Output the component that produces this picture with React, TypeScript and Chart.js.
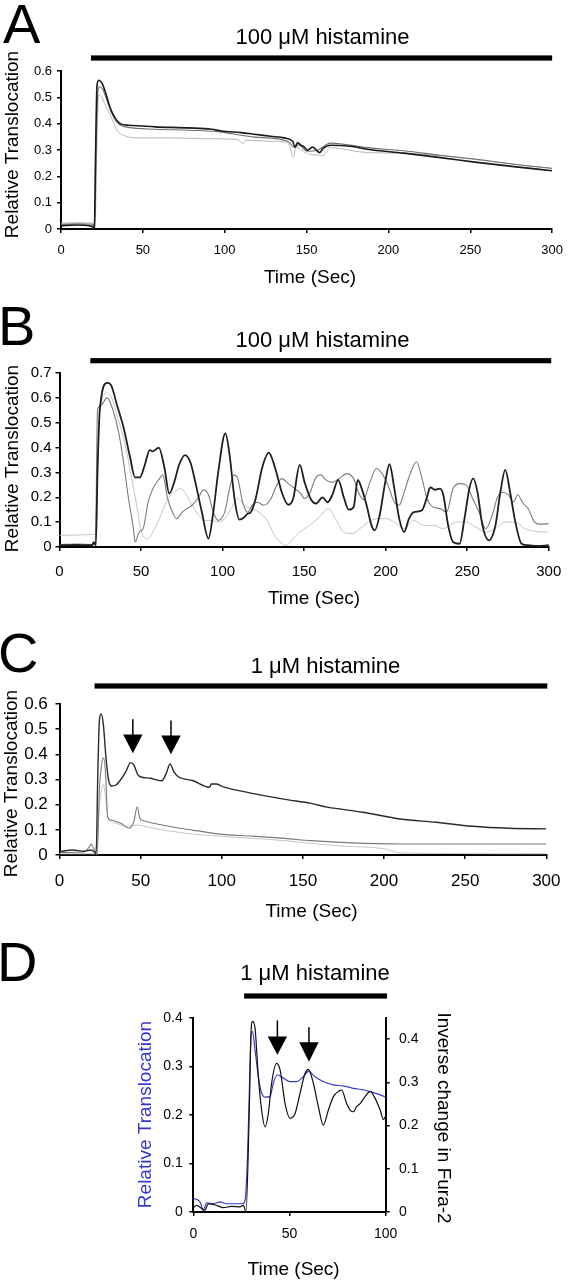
import React, { useEffect, useRef } from "react";
import { Chart, registerables } from "chart.js";

Chart.register(...registerables);

const FONT = "'Liberation Sans', Arial, Helvetica, sans-serif";
const PAGE_W = 573;

type Pt = [number, number];

// ---------------- Panel A: 100 uM histamine (3 cells) ----------------
const A_BLACK: Pt[] = [
  [0, 0.013], [9, 0.015], [19, 0.01], [20.4, 0.003], [21, 0.24], [22, 0.546], [23.1, 0.565],
  [25.1, 0.553], [27.1, 0.52], [30.2, 0.457], [33.2, 0.42], [36.2, 0.4], [41.3, 0.394],
  [49.4, 0.391], [57.5, 0.388], [77.7, 0.384], [91.9, 0.379], [98, 0.372], [110, 0.366],
  [118, 0.36], [128, 0.352], [136.4, 0.346], [141.5, 0.333], [143, 0.311], [144.5, 0.328],
  [146.6, 0.318], [148.6, 0.311], [150.6, 0.299], [153.6, 0.311], [158, 0.29], [160, 0.305],
  [164.6, 0.318], [178, 0.313], [187, 0.303], [209.4, 0.288], [231.8, 0.271], [254, 0.253],
  [276.6, 0.237], [300, 0.221],
];
const A_MID: Pt[] = [
  [0, 0.018], [10, 0.02], [19.5, 0.018], [20.6, 0.005], [21.5, 0.3], [22.5, 0.52], [23.5, 0.54],
  [25.5, 0.53], [28, 0.49], [31, 0.44], [33.5, 0.41], [36, 0.395], [41, 0.386], [57.5, 0.379],
  [77.7, 0.375], [98, 0.368], [110, 0.356], [118, 0.349], [138.5, 0.333], [142.5, 0.31],
  [145, 0.32], [150.6, 0.295], [157, 0.3], [164.6, 0.326], [187, 0.309], [209.4, 0.297],
  [231.8, 0.28], [254, 0.265], [276.6, 0.246], [300, 0.23],
];
const A_LIGHT: Pt[] = [
  [0, 0.022], [10, 0.024], [19.5, 0.022], [20.8, 0.005], [21.8, 0.3], [23, 0.51], [25, 0.5],
  [27, 0.47], [30.2, 0.432], [34.2, 0.375], [39.3, 0.353], [47.4, 0.346], [67.6, 0.346],
  [87.9, 0.343], [108, 0.34], [111, 0.324], [113, 0.337], [128.3, 0.333], [138.5, 0.328],
  [142, 0.273], [143.5, 0.311], [150.6, 0.286], [158, 0.28], [160, 0.278], [164.6, 0.309],
  [187, 0.29], [209.4, 0.288], [231.8, 0.278], [254, 0.263], [276.6, 0.246], [300, 0.23],
];

// ---------------- Panel B: 100 uM histamine (oscillating) ----------------
const B_BLACK: Pt[] = [
  [0, 0.007], [10, 0.008], [20, 0.007], [21, 0.02], [22.3, 0.007], [23.3, 0.3], [24.7, 0.55],
  [29.3, 0.66], [31.7, 0.65], [35.3, 0.57], [39.3, 0.48], [43.3, 0.36], [46.3, 0.28],
  [49.3, 0.28], [52.3, 0.33], [55.3, 0.39], [57.3, 0.385], [60.9, 0.4], [64.3, 0.32],
  [67.3, 0.215], [70.3, 0.26], [73.3, 0.33], [76.9, 0.37], [80.3, 0.34], [83.3, 0.26],
  [87.3, 0.14], [91.3, 0.034], [94.3, 0.14], [97.3, 0.3], [101.7, 0.457], [104.3, 0.37],
  [107.3, 0.195], [110.3, 0.11], [113.3, 0.12], [115.3, 0.134], [117.3, 0.14], [120.3, 0.195],
  [124.3, 0.32], [128.3, 0.38], [132.3, 0.316], [136.3, 0.22], [140.3, 0.17], [143.3, 0.195],
  [147.3, 0.33], [150.3, 0.26], [154.3, 0.19], [157.3, 0.175], [161.3, 0.2], [164.3, 0.18],
  [167.3, 0.21], [170.9, 0.27], [174.3, 0.2], [177.3, 0.15], [180.3, 0.16], [182.9, 0.27],
  [185.3, 0.235], [188.3, 0.168], [191.3, 0.087], [193.3, 0.067], [196.3, 0.128],
  [199.7, 0.26], [202.3, 0.333], [205.3, 0.235], [208.3, 0.114], [211.3, 0.06], [214.3, 0.114],
  [217.3, 0.14], [222.3, 0.148], [225.3, 0.2], [227.3, 0.24], [230.3, 0.23], [233.3, 0.235],
  [235.3, 0.21], [238.3, 0.087], [241.3, 0.02], [245.3, 0.013], [248.3, 0.114], [251.3, 0.235],
  [253.7, 0.276], [256.3, 0.22], [259.3, 0.087], [263.3, 0.027], [267.3, 0.087], [270.3, 0.22],
  [273.3, 0.31], [276.3, 0.22], [279.3, 0.107], [283.3, 0.013], [287.3, 0.007], [293.3, 0.004],
  [300, 0.007],
];
const B_MID: Pt[] = [
  [0, 0.01], [10, 0.012], [22, 0.01], [23.3, 0.55], [25.3, 0.57], [29.3, 0.6], [32.3, 0.56],
  [36.3, 0.46], [39.3, 0.34], [42.3, 0.195], [45.3, 0.074], [46.3, 0.02], [48.9, 0.06],
  [51.3, 0.074], [54.3, 0.18], [57.3, 0.235], [61.3, 0.275], [63.3, 0.29], [66.3, 0.195],
  [69.3, 0.14], [71.7, 0.114], [75.3, 0.14], [78.3, 0.155], [81.3, 0.168], [85.3, 0.2],
  [88.3, 0.23], [91.3, 0.21], [94.3, 0.14], [97.3, 0.107], [101.3, 0.14], [104.3, 0.235],
  [106.9, 0.29], [109.3, 0.275], [112.3, 0.18], [115.3, 0.14], [118.3, 0.168], [121.3, 0.18],
  [125.3, 0.168], [129.3, 0.19], [133.3, 0.25], [136.3, 0.275], [140.3, 0.255], [144.3, 0.235],
  [147.3, 0.22], [150.3, 0.195], [153.3, 0.215], [157.3, 0.28], [160.3, 0.29], [163.3, 0.27],
  [167.3, 0.26], [171.3, 0.275], [176.3, 0.295], [180.3, 0.275], [183.3, 0.22], [186.3, 0.19],
  [190.3, 0.26], [194.3, 0.316], [198.3, 0.29], [201.3, 0.25], [205.3, 0.18], [208.3, 0.168],
  [211.3, 0.22], [215.3, 0.3], [218.9, 0.343], [222.3, 0.275], [225.3, 0.195], [229.3, 0.16],
  [233.3, 0.155], [237.3, 0.14], [241.3, 0.235], [245.3, 0.255], [249.3, 0.25], [253.3, 0.195],
  [257.3, 0.14], [261.3, 0.074], [265.3, 0.128], [268.3, 0.195], [271.3, 0.22], [275.3, 0.21],
  [278.3, 0.18], [280.9, 0.21], [284.3, 0.175], [287.3, 0.155], [291.3, 0.1], [294.3, 0.092],
  [300, 0.094],
];
const B_LIGHT: Pt[] = [
  [0, 0.047], [10, 0.048], [20, 0.05], [22, 0.054], [23.5, 0.4], [25, 0.56], [29.5, 0.62],
  [32, 0.6], [35.3, 0.53], [40.3, 0.41], [44.3, 0.275], [47.3, 0.168], [50.3, 0.06],
  [54.3, 0.034], [57.3, 0.06], [61.3, 0.114], [65.3, 0.18], [69.3, 0.215], [74.3, 0.235],
  [77.3, 0.215], [80.3, 0.18], [85.3, 0.128], [89.3, 0.107], [93.3, 0.107], [97.3, 0.1],
  [101.3, 0.114], [105.3, 0.155], [109.3, 0.195], [113.3, 0.168], [117.3, 0.155], [122.3, 0.14],
  [127.3, 0.107], [131.3, 0.054], [135.3, 0.02], [139.3, 0.007], [143.3, 0.034], [147.3, 0.06],
  [153.3, 0.087], [159.3, 0.12], [164.9, 0.155], [169.3, 0.114], [174.3, 0.06], [179.3, 0.054],
  [184.3, 0.074], [189.3, 0.1], [195.3, 0.114], [200.3, 0.114], [205.3, 0.1], [211.3, 0.074],
  [217.3, 0.107], [223.3, 0.087], [229.3, 0.087], [235.3, 0.074], [243.3, 0.1], [249.3, 0.1],
  [255.3, 0.08], [261.3, 0.06], [267.3, 0.074], [273.3, 0.1], [279.3, 0.1], [285.3, 0.074],
  [291.3, 0.063], [300, 0.06],
];

// ---------------- Panel C: 1 uM histamine ----------------
const C_BLACK: Pt[] = [
  [0, 0.013], [8, 0.02], [15, 0.015], [19.5, 0.02], [22.6, 0.007], [23.6, 0.32], [24.6, 0.536],
  [25.6, 0.56], [27, 0.52], [28.6, 0.39], [30.2, 0.3], [32.1, 0.274], [34.7, 0.278], [37.8, 0.3],
  [40.8, 0.33], [43.8, 0.367], [45.8, 0.358], [48.3, 0.318], [50.9, 0.309], [56, 0.305],
  [60, 0.298], [63.1, 0.295], [66.1, 0.33], [68.1, 0.362], [70.5, 0.33], [73.2, 0.311],
  [82.3, 0.295], [92.4, 0.269], [93.6, 0.282], [96.5, 0.282], [100.5, 0.272], [118.7, 0.245],
  [139, 0.221], [155, 0.205], [165, 0.19], [187, 0.17], [210, 0.143], [232, 0.13],
  [254.4, 0.114], [276.8, 0.106], [300, 0.104],
];
const C_MID: Pt[] = [
  [0, 0.01], [15, 0.012], [18.5, 0.033], [19.5, 0.044], [21.5, 0.02], [23.2, 0], [24.6, 0.26],
  [26.2, 0.37], [27.2, 0.385], [28.6, 0.3], [29.6, 0.152], [31.7, 0.139], [37.8, 0.126],
  [42.8, 0.106], [45.8, 0.132], [47.9, 0.192], [49.5, 0.146], [51.9, 0.136], [58, 0.126],
  [68.1, 0.113], [78.3, 0.102], [88.4, 0.093], [98.5, 0.083], [118.7, 0.075], [139, 0.066],
  [155, 0.057], [180, 0.048], [210, 0.044], [254, 0.044], [300, 0.044],
];
const C_LIGHT: Pt[] = [
  [0, 0.005], [22, 0.005], [23.5, 0.1], [25, 0.22], [27, 0.28], [28.5, 0.22], [30, 0.146],
  [35, 0.126], [40.8, 0.113], [48, 0.119], [58, 0.106], [78, 0.086], [98.5, 0.075],
  [118.7, 0.066], [139, 0.057], [155, 0.046], [175, 0.035], [200, 0.025], [210, 0.008],
  [300, 0.005],
];

// ---------------- Panel D: translocation (blue, left) vs inverse Fura-2 (black, right) ----------------
const D_TRANSLOCATION: Pt[] = [
  [0, 0.028], [3.5, 0.021], [5.2, 0.003], [6.9, 0.019], [10.4, 0.017], [13.9, 0.021],
  [17.3, 0.017], [20.8, 0.017], [25.6, 0.017], [26.9, 0.024], [28.1, 0.107], [29.1, 0.245],
  [30, 0.362], [30.8, 0.372], [32.1, 0.334], [33.8, 0.279], [35.5, 0.245], [37.3, 0.237],
  [39.9, 0.238], [41.6, 0.266], [43.7, 0.283], [46.8, 0.276], [50.3, 0.269], [53.7, 0.269],
  [57.2, 0.279], [59.8, 0.29], [63.3, 0.279], [67.6, 0.269], [72.8, 0.262], [78, 0.26],
  [83.2, 0.255], [88.4, 0.252], [93.6, 0.246], [98.8, 0.239], [100, 0.237],
];
const D_FURA: Pt[] = [
  [0, 0.01], [1.7, 0.0155], [6, 0.004], [7.8, 0.019], [12.1, 0.0155], [15.6, 0.01],
  [19.9, 0.013], [24.3, 0.012], [26, 0.0155], [27.4, 0], [29.1, 0.236], [30, 0.414],
  [30.8, 0.441], [32.1, 0.425], [33.8, 0.314], [35.5, 0.236], [37.3, 0.197], [39, 0.228],
  [40.7, 0.298], [43.3, 0.344], [45.1, 0.329], [47.7, 0.251], [50.3, 0.217], [52.9, 0.228],
  [55.5, 0.275], [58.1, 0.321], [59.8, 0.33], [62.4, 0.298], [65, 0.244], [67.6, 0.201],
  [70.2, 0.236], [72.8, 0.267], [75.4, 0.279], [77.1, 0.282], [79.7, 0.251], [81.5, 0.236],
  [83.2, 0.232], [84.9, 0.244], [86.7, 0.251], [89.3, 0.267], [91.9, 0.279], [94.5, 0.263],
  [97.1, 0.236], [98.8, 0.214], [100, 0.222],
];

// Histamine application periods (seconds) and arrow annotations [time, top, base, tip]
const A_HISTAMINE: Pt = [18.3, 300];
const B_HISTAMINE: Pt = [18.9, 301.5];
const C_HISTAMINE: Pt = [21.6, 300.6];
const D_HISTAMINE: Pt = [26.4, 100.7];
const C_ARROWS: number[][] = [[45.2, 0.539, 0.479, 0.404], [68.7, 0.534, 0.475, 0.4]];
const D_ARROWS: number[][] = [[43.7, 0.395, 0.362, 0.324], [60.1, 0.381, 0.35, 0.31]];

const X_TITLE = "Time (Sec)";
const Y_TITLE = "Relative Translocation";
const Y2_TITLE = "Inverse change in Fura-2";

interface Series { data: Pt[]; color: string; width: number; axis?: string }
interface Spec {
  top: number; height: number;
  area: [number, number, number, number];
  xMax: number; xStep: number; yMax: number; y2Max?: number;
  tickFont: number; xPad: number; yPad: number; y2Pad?: number;
  series: Series[];
  letter: string; letterXY: Pt;
  title: string; titleXY: Pt;
  bar: Pt; barY: number;
  xTitleXY: Pt;
  yTitleXY: Pt; yTitleColor: string;
  y2TitleXY?: Pt;
  arrows?: number[][];
}

const SPECS: Spec[] = [
  {
    top: 0, height: 290, area: [61, 553, 71, 229], xMax: 300, xStep: 50, yMax: 0.6,
    tickFont: 13, xPad: 10, yPad: 5,
    series: [
      { data: A_BLACK, color: "#1a1a1a", width: 1.6 },
      { data: A_MID, color: "#6e6e6e", width: 1.1 },
      { data: A_LIGHT, color: "#b8b8b8", width: 1 },
    ],
    letter: "A", letterXY: [3, 43], title: "100 \u03bcM histamine", titleXY: [322.5, 43.5],
    bar: A_HISTAMINE, barY: 58, xTitleXY: [310, 283], yTitleXY: [17.5, 144.5], yTitleColor: "#000",
  },
  {
    top: 290, height: 320, area: [59.5, 559.5, 373, 547], xMax: 300, xStep: 50, yMax: 0.7,
    tickFont: 15, xPad: 11.7, yPad: 4,
    series: [
      { data: B_BLACK, color: "#1f1f1f", width: 1.8 },
      { data: B_MID, color: "#7c7c7c", width: 1.1 },
      { data: B_LIGHT, color: "#c4c4c4", width: 1 },
    ],
    letter: "B", letterXY: [-2, 345], title: "100 \u03bcM histamine", titleXY: [322.5, 347],
    bar: B_HISTAMINE, barY: 360.7, xTitleXY: [314, 604], yTitleXY: [17.5, 458.5], yTitleColor: "#000",
  },
  {
    top: 610, height: 320, area: [59.5, 553, 704, 855], xMax: 300, xStep: 50, yMax: 0.6,
    tickFont: 17, xPad: 12.5, yPad: 7.7,
    series: [
      { data: C_BLACK, color: "#2a2a2a", width: 1.4 },
      { data: C_MID, color: "#7a7a7a", width: 1.1 },
      { data: C_LIGHT, color: "#c6c6c6", width: 1 },
    ],
    letter: "C", letterXY: [-2, 672], title: "1 \u03bcM histamine", titleXY: [325.5, 673],
    bar: C_HISTAMINE, barY: 686, xTitleXY: [311.5, 917], yTitleXY: [16.5, 783.5], yTitleColor: "#000",
    arrows: C_ARROWS,
  },
  {
    top: 930, height: 350, area: [193.3, 385.7, 1018, 1212], xMax: 100, xStep: 50, yMax: 0.4, y2Max: 0.449,
    tickFont: 14, xPad: 9.6, yPad: 6.6, y2Pad: 9.3,
    series: [
      { data: D_FURA, color: "#111111", width: 1.2, axis: "y2" },
      { data: D_TRANSLOCATION, color: "#3a3ad2", width: 1.2 },
    ],
    letter: "D", letterXY: [-3, 981], title: "1 \u03bcM histamine", titleXY: [315, 980],
    bar: D_HISTAMINE, barY: 996, xTitleXY: [293.6, 1275], yTitleXY: [150.5, 1114.5], yTitleColor: "#3535cc",
    y2TitleXY: [438, 1118], arrows: D_ARROWS,
  },
];

const fmt = (v: any) => (Number(v) === 0 ? "0" : Number(v).toFixed(1));

function axisCommon(size: number, pad: number) {
  return {
    ticks: { font: { family: FONT, size }, color: "#000", padding: pad, autoSkip: false, maxRotation: 0 },
    grid: { drawOnChartArea: false, drawTicks: true, tickLength: 4, color: "#000", lineWidth: 1.5 },
    border: { display: true, color: "#000", width: 2 },
  };
}

function Panel({ spec }: { spec: Spec }) {
  const ref = useRef<HTMLCanvasElement | null>(null);
  useEffect(() => {
    const canvas = ref.current;
    if (!canvas) return;
    const [L, R, T, B] = spec.area;
    const off = spec.top;
    const bottomBand = off + spec.height - B;
    const rightBand = PAGE_W - R;
    const decor = {
      id: "decor",
      afterDraw(chart: any) {
        const ctx = chart.ctx as CanvasRenderingContext2D;
        const xs = chart.scales.x;
        const ys = chart.scales.y;
        ctx.save();
        ctx.fillStyle = "#000";
        ctx.textBaseline = "alphabetic";
        // panel letter
        ctx.font = `56px ${FONT}`;
        ctx.textAlign = "left";
        ctx.fillText(spec.letter, spec.letterXY[0], spec.letterXY[1] - off);
        // title
        ctx.font = `22px ${FONT}`;
        ctx.textAlign = "center";
        ctx.fillText(spec.title, spec.titleXY[0], spec.titleXY[1] - off);
        // histamine bar
        const bx0 = xs.getPixelForValue(spec.bar[0]);
        const bx1 = xs.getPixelForValue(spec.bar[1]);
        ctx.fillRect(bx0, spec.barY - off - 2.6, bx1 - bx0, 5.2);
        // axis titles
        ctx.font = `19px ${FONT}`;
        ctx.fillText(X_TITLE, spec.xTitleXY[0], spec.xTitleXY[1] - off);
        ctx.save();
        ctx.translate(spec.yTitleXY[0], spec.yTitleXY[1] - off);
        ctx.rotate(-Math.PI / 2);
        ctx.fillStyle = spec.yTitleColor;
        ctx.fillText(Y_TITLE, 0, 0);
        ctx.restore();
        if (spec.y2TitleXY) {
          ctx.save();
          ctx.translate(spec.y2TitleXY[0], spec.y2TitleXY[1] - off);
          ctx.rotate(Math.PI / 2);
          ctx.fillText(Y2_TITLE, 0, 0);
          ctx.restore();
        }
        // arrows
        if (spec.arrows) {
          ctx.strokeStyle = "#000";
          ctx.lineWidth = 1.5;
          for (const [t, top, base, tip] of spec.arrows) {
            const px = xs.getPixelForValue(t);
            const pTop = ys.getPixelForValue(top);
            const pBase = ys.getPixelForValue(base);
            const pTip = ys.getPixelForValue(tip);
            ctx.beginPath();
            ctx.moveTo(px, pTop);
            ctx.lineTo(px, pBase + 1);
            ctx.stroke();
            ctx.beginPath();
            ctx.moveTo(px - 9.7, pBase);
            ctx.lineTo(px + 9.7, pBase);
            ctx.lineTo(px, pTip);
            ctx.closePath();
            ctx.fill();
          }
        }
        ctx.restore();
      },
    };

    const scales: any = {
      x: {
        type: "linear", min: 0, max: spec.xMax,
        afterFit: (s: any) => { s.height = bottomBand; },
        ...axisCommon(spec.tickFont, spec.xPad),
      },
      y: {
        type: "linear", position: "left", min: 0, max: spec.yMax,
        afterFit: (s: any) => { s.width = L; },
        ...axisCommon(spec.tickFont, spec.yPad),
      },
    };
    scales.x.ticks.stepSize = spec.xStep;
    scales.y.ticks.stepSize = 0.1;
    scales.y.ticks.callback = fmt;
    if (spec.y2Max) {
      scales.y2 = {
        type: "linear", position: "right", min: 0, max: spec.y2Max,
        afterFit: (s: any) => { s.width = rightBand; },
        ...axisCommon(spec.tickFont, spec.y2Pad || 8),
      };
      scales.y2.ticks.stepSize = 0.1;
      scales.y2.ticks.includeBounds = false;
      scales.y2.ticks.callback = fmt;
    }

    const chart = new Chart(canvas, {
      type: "line",
      data: {
        datasets: spec.series.map((s) => ({
          data: s.data.map(([x, y]) => ({ x, y })),
          borderColor: s.color,
          borderWidth: s.width,
          pointRadius: 0,
          fill: false,
          cubicInterpolationMode: "monotone",
          yAxisID: s.axis || "y",
        })),
      },
      options: {
        animation: false,
        responsive: false,
        maintainAspectRatio: false,
        devicePixelRatio: 1,
        events: [],
        layout: {
          padding: { left: 0, right: spec.y2Max ? 0 : rightBand, top: T - off, bottom: 0 },
        },
        plugins: { legend: { display: false }, tooltip: { enabled: false }, title: { display: false } },
        scales,
      } as any,
      plugins: [decor],
    });
    return () => chart.destroy();
  }, [spec]);
  return (
    <canvas
      ref={ref}
      width={PAGE_W}
      height={spec.height}
      style={{ position: "absolute", left: 0, top: spec.top, width: PAGE_W, height: spec.height, display: "block" }}
    />
  );
}

export default function App() {
  return (
    <div style={{ position: "absolute", left: 0, top: 0, width: PAGE_W, height: 1280, background: "#fff", overflow: "hidden" }}>
      {SPECS.map((s) => (
        <Panel key={s.letter} spec={s} />
      ))}
    </div>
  );
}
